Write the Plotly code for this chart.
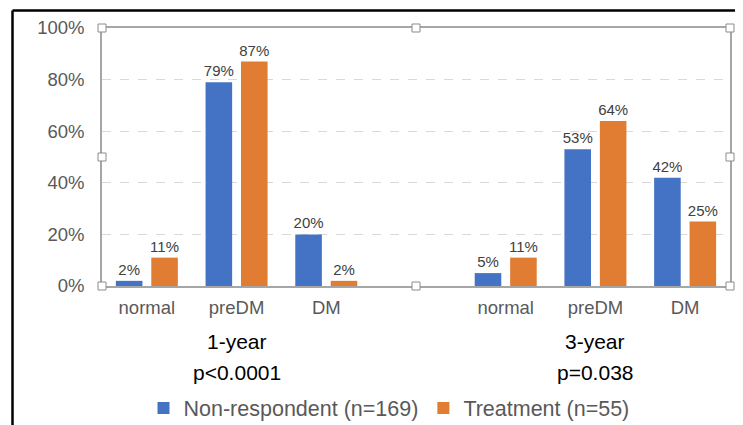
import plotly.graph_objects as go

# Data
categories = ["normal", "preDM", "DM", "", "normal", "preDM", "DM"]
x_pos = [0, 1, 2, 4, 5, 6]
non_respondent = [0.02, 0.79, 0.20, 0.05, 0.53, 0.42]
treatment = [0.11, 0.87, 0.02, 0.11, 0.64, 0.25]
series_names = ["Non-respondent (n=169)", "Treatment (n=55)"]
group_titles = ["1-year", "3-year"]
group_pvalues = ["p<0.0001", "p=0.038"]
group_centers = [1, 5]
y_ticks = [0, 0.2, 0.4, 0.6, 0.8, 1.0]

FONT = "Liberation Sans, Arial, sans-serif"
BLUE = "#4472C4"
ORANGE = "#E07D33"

fig = go.Figure()
for name, vals, col in [(series_names[0], non_respondent, BLUE),
                        (series_names[1], treatment, ORANGE)]:
    fig.add_trace(go.Bar(
        x=x_pos, y=vals, name=name, marker_color=col, marker_line_width=0,
        text=[f"{round(v*100)}%" for v in vals], textposition="outside",
        constraintext="none",
        textfont=dict(family=FONT, size=15, color="#404040"),
        cliponaxis=False,
    ))

OFF = 8  # browser body margin
W, H = 743, 425
# target plot area in page pixels: x 102..730, y 28..286
PX0, PX1, PY0, PY1 = 102, 730, 28, 286
L = PX0 - OFF
T = PY0 - OFF
pw = PX1 - PX0
ph = PY1 - PY0
R = W - L - pw
B = H - T - ph

def px_to_paper_x(px):
    return (px - PX0) / pw

def px_to_paper_y(py):
    return (PY1 - py) / ph

def px_to_container_y(py):
    return (H - (py - OFF)) / H

shapes = []
# outer black frame (top and left visible)
shapes.append(dict(type="line", xref="paper", yref="paper",
                   x0=px_to_paper_x(12.5), x1=px_to_paper_x(770),
                   y0=px_to_paper_y(10.5), y1=px_to_paper_y(10.5),
                   line=dict(color="black", width=2.5)))
shapes.append(dict(type="line", xref="paper", yref="paper",
                   x0=px_to_paper_x(12.5), x1=px_to_paper_x(12.5),
                   y0=px_to_paper_y(10.5), y1=px_to_paper_y(450),
                   line=dict(color="black", width=2.5)))
# selection handles
for hx, hy in [(0, 0), (0.5, 0), (1, 0), (0, 0.5), (1, 0.5), (0, 1), (0.5, 1), (1, 1)]:
    shapes.append(dict(type="rect", xref="paper", yref="paper",
                       xsizemode="pixel", ysizemode="pixel",
                       xanchor=hx, yanchor=hy,
                       x0=-4, x1=4, y0=-4, y1=4,
                       fillcolor="white", line=dict(color="#8c8c8c", width=1)))

annotations = []
for title, pval, cx in zip(group_titles, group_pvalues, group_centers):
    annotations.append(dict(x=cx, xref="x", y=px_to_paper_y(341), yref="paper",
                            text=title, showarrow=False, xanchor="center", yanchor="middle",
                            font=dict(family=FONT, size=21, color="black")))
    annotations.append(dict(x=cx, xref="x", y=px_to_paper_y(372), yref="paper",
                            text=pval, showarrow=False, xanchor="center", yanchor="middle",
                            font=dict(family=FONT, size=21, color="black")))

fig.update_layout(
    width=W, height=H,
    margin=dict(l=L, r=R, t=T, b=B, pad=0, autoexpand=False),
    paper_bgcolor="white", plot_bgcolor="white",
    barmode="group", bargap=0.21, bargroupgap=0.25,
    font=dict(family=FONT, color="#595959"),
    showlegend=True,
    legend=dict(orientation="h", x=px_to_paper_x(389), xanchor="center",
                yref="container", y=px_to_container_y(408), yanchor="middle",
                font=dict(family=FONT, size=21.5, color="#595959"),
                itemwidth=30, tracegroupgap=0, bgcolor="rgba(0,0,0,0)"),
    shapes=shapes,
    annotations=annotations,
)
fig.update_xaxes(range=[-0.5, 6.5], tickmode="array", tickvals=list(range(7)),
                 ticktext=categories, showgrid=False, zeroline=False,
                 showline=True, linecolor="#a6a6a6", linewidth=1.5, mirror=True,
                 ticks="", ticklabelstandoff=4,
                 tickfont=dict(family=FONT, size=18.5, color="#595959"))
fig.update_yaxes(range=[0, 1.0], tickmode="array", tickvals=y_ticks,
                 ticktext=[f"{int(v*100)}%" for v in y_ticks],
                 showgrid=True, gridcolor="#d9d9d9", griddash="dash", gridwidth=1,
                 zeroline=False, showline=True, linecolor="#a6a6a6", linewidth=1.5,
                 mirror=True, ticks="", ticklabelstandoff=12,
                 tickfont=dict(family=FONT, size=18.5, color="#595959"))

fig.write_html("out.html")
